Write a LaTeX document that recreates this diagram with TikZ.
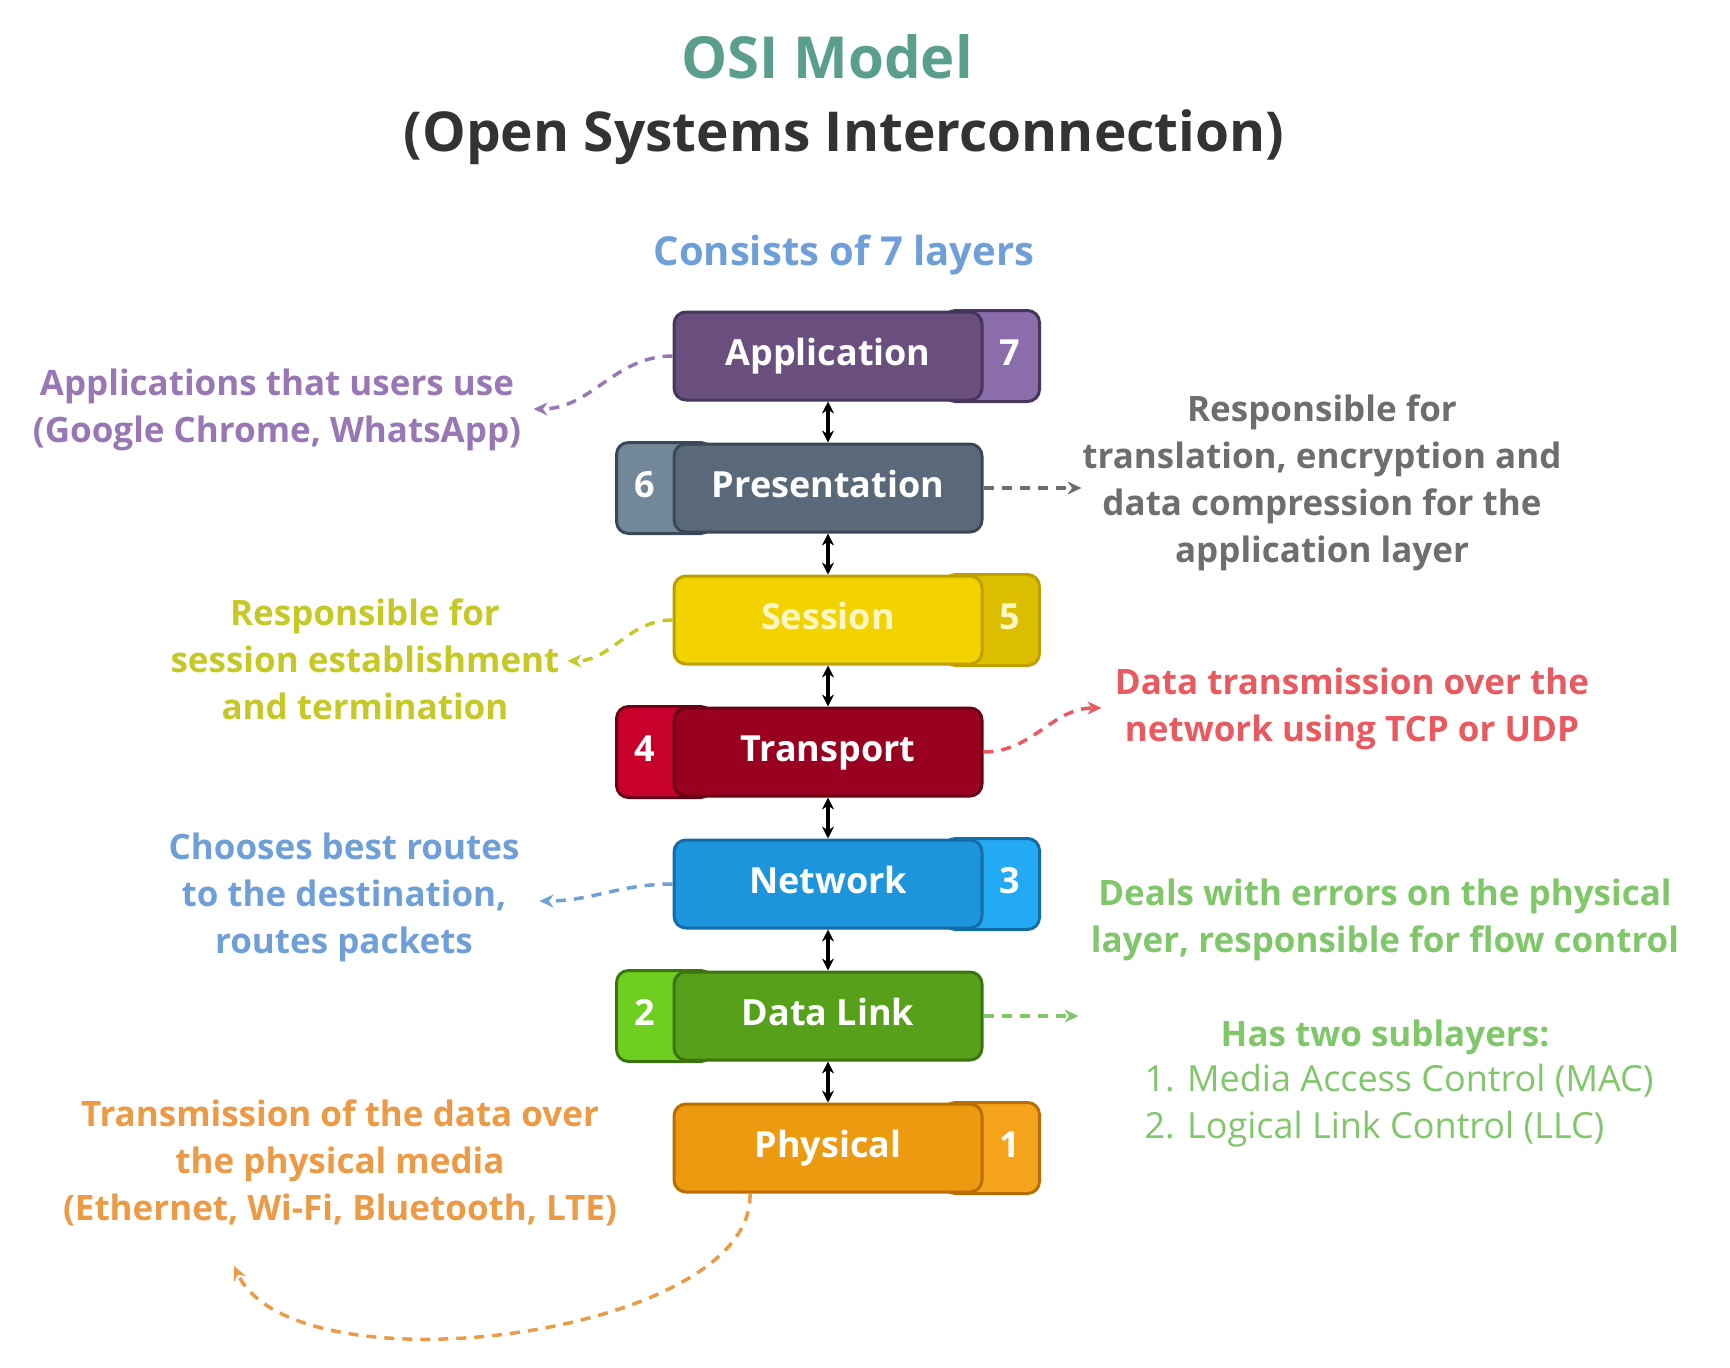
\documentclass[tikz,border=0pt]{standalone}
\usepackage{fontspec}
\setmainfont{Open Sans}
\usetikzlibrary{arrows.meta, positioning, backgrounds}

\definecolor{titlec}{HTML}{5A9E8E}
\definecolor{subc}{HTML}{333333}
\definecolor{layersc}{HTML}{6F9FD8}
\definecolor{appmain}{HTML}{6A4F7E}
\definecolor{apptab}{HTML}{8C6DAB}
\definecolor{appline}{HTML}{46365A}
\definecolor{appc}{HTML}{9877B4}
\definecolor{presmain}{HTML}{5A697A}
\definecolor{prestab}{HTML}{73879A}
\definecolor{presline}{HTML}{3A4756}
\definecolor{presc}{HTML}{6E6E6E}
\definecolor{sessmain}{HTML}{F2D300}
\definecolor{sesstab}{HTML}{DCBE00}
\definecolor{sessline}{HTML}{C0A000}
\definecolor{sesstext}{HTML}{FFF6C4}
\definecolor{sessc}{HTML}{C6C826}
\definecolor{tranmain}{HTML}{990020}
\definecolor{trantab}{HTML}{C8002C}
\definecolor{tranline}{HTML}{6A0016}
\definecolor{tranc}{HTML}{E85A60}
\definecolor{netmain}{HTML}{1C95DC}
\definecolor{nettab}{HTML}{22AAF5}
\definecolor{netline}{HTML}{136CA6}
\definecolor{netc}{HTML}{6F9FD9}
\definecolor{dlmain}{HTML}{57A01A}
\definecolor{dltab}{HTML}{6FCF20}
\definecolor{dlline}{HTML}{3C7410}
\definecolor{dlc}{HTML}{80C76A}
\definecolor{physmain}{HTML}{EC9A10}
\definecolor{phystab}{HTML}{F5A31A}
\definecolor{physline}{HTML}{B86E00}
\definecolor{physc}{HTML}{EC9A45}

\begin{document}
\begin{tikzpicture}[
  x=1pt, y=1pt,
  node distance = 41pt,
  layer/.style = {rectangle, rounded corners=12pt, line width=3pt,
                  minimum width=308pt, minimum height=88pt, text=white,
                  text height=26pt, text depth=8pt,
                  font=\fontsize{36}{42}\selectfont\bfseries},
  tabbox/.style = {rounded corners=12pt, line width=3pt},
  numlabel/.style = {text=white, text height=26pt, text depth=8pt,
                     font=\fontsize{36}{42}\selectfont\bfseries},
  desc/.style = {align=center, font=\fontsize{35}{47}\selectfont\bfseries},
  dbl/.style = {{Stealth[length=12pt,width=12pt]}-{Stealth[length=12pt,width=12pt]},
                line width=3.2pt},
  darr/.style = {-{Stealth[length=14pt,width=13pt]}, line width=3.5pt,
                 dash pattern=on 10pt off 8pt}
]
\useasboundingbox (0,0) rectangle (1730,-1368);

% title
\node[text=titlec, font=\fontsize{58}{64}\selectfont\bfseries] (ttl) at (827,-57) {OSI Model};
\node[text=subc, font=\fontsize{55}{62}\selectfont\bfseries] (sub) at (844,-137) {(Open Systems Interconnection)};
\node[text=layersc, font=\fontsize{40}{46}\selectfont\bfseries] (cons) at (844,-255) {Consists of 7 layers};

% layers
\node[layer, fill=appmain, draw=appline] (app) at (828,-356) {Application};
\node[layer, fill=presmain, draw=presline, below=of app] (pres) {Presentation};
\node[layer, fill=sessmain, draw=sessline, text=sesstext, below=of pres] (sess) {Session};
\node[layer, fill=tranmain, draw=tranline, below=of sess] (tran) {Transport};
\node[layer, fill=netmain, draw=netline, below=of tran] (net) {Network};
\node[layer, fill=dlmain, draw=dlline, below=of net] (dl) {Data Link};
\node[layer, fill=physmain, draw=physline, below=of dl] (phys) {Physical};

% number tabs
\begin{scope}[on background layer]
  \draw[tabbox, fill=apptab, draw=appline] ([xshift=-40pt]app.north east) rectangle ([xshift=56pt]app.south east);
  \draw[tabbox, fill=prestab, draw=presline] ([xshift=-56pt]pres.north west) rectangle ([xshift=40pt]pres.south west);
  \draw[tabbox, fill=sesstab, draw=sessline] ([xshift=-40pt]sess.north east) rectangle ([xshift=56pt]sess.south east);
  \draw[tabbox, fill=trantab, draw=tranline] ([xshift=-56pt]tran.north west) rectangle ([xshift=40pt]tran.south west);
  \draw[tabbox, fill=nettab, draw=netline] ([xshift=-40pt]net.north east) rectangle ([xshift=56pt]net.south east);
  \draw[tabbox, fill=dltab, draw=dlline] ([xshift=-56pt]dl.north west) rectangle ([xshift=40pt]dl.south west);
  \draw[tabbox, fill=phystab, draw=physline] ([xshift=-40pt]phys.north east) rectangle ([xshift=56pt]phys.south east);
\end{scope}
\node[numlabel] (n7) at ([xshift=26pt]app.east) {7};
\node[numlabel] (n6) at ([xshift=-28pt]pres.west) {6};
\node[numlabel, text=sesstext] (n5) at ([xshift=26pt]sess.east) {5};
\node[numlabel] (n4) at ([xshift=-28pt]tran.west) {4};
\node[numlabel] (n3) at ([xshift=26pt]net.east) {3};
\node[numlabel] (n2) at ([xshift=-28pt]dl.west) {2};
\node[numlabel] (n1) at ([xshift=26pt]phys.east) {1};

\draw[dbl] (app) -- (pres);
\draw[dbl] (pres) -- (sess);
\draw[dbl] (sess) -- (tran);
\draw[dbl] (tran) -- (net);
\draw[dbl] (net) -- (dl);
\draw[dbl] (dl) -- (phys);

% descriptions
\node[desc, text=appc] (appdesc) at (277,-410) {Applications that users use\\(Google Chrome, WhatsApp)};
\node[desc, text=presc] (presdesc) at (1322,-483) {Responsible for\\translation, encryption and\\data compression for the\\application layer};
\node[desc, text=sessc] (sessdesc) at (365,-659) {Responsible for\\session establishment\\and termination};
\node[desc, text=tranc] (trandesc) at (1352,-709) {Data transmission over the\\network using TCP or UDP};
\node[desc, text=netc] (netdesc) at (344,-897) {Chooses best routes\\to the destination,\\routes packets};
\node[desc, text=dlc] (dldesc) at (1385,-920) {Deals with errors on the physical\\layer, responsible for flow control};
\node[desc, text=dlc] (subl) at (1385,-1037) {Has two sublayers:};
\node[desc, text=dlc, align=left, font=\fontsize{36}{47}\selectfont] (sublist) at (1399,-1106) {1. Media Access Control (MAC)\\2. Logical Link Control (LLC)};
\node[desc, text=physc] (physdesc) at (340,-1163) {Transmission of the data over\\the physical media\\(Ethernet, Wi-Fi, Bluetooth, LTE)};

% pointers
\coordinate (append) at ([xshift=-139pt, yshift=-53pt]app.west);
\coordinate (presend) at ([xshift=98pt]pres.east);
\coordinate (sessend) at ([xshift=-105pt, yshift=-41pt]sess.west);
\coordinate (tranend) at ([xshift=118pt, yshift=44pt]tran.east);
\coordinate (netend) at ([xshift=-133pt, yshift=-17pt]net.west);
\coordinate (dlend) at ([xshift=95pt]dl.east);
\coordinate (physstart) at ([xshift=-78pt]phys.south);
\coordinate (physend) at (234,-1266);

\draw[darr, draw=appc] (app.west) to[out=180, in=0] (append);
\draw[darr, draw=presc] (pres.east) -- (presend);
\draw[darr, draw=sessc] (sess.west) to[out=180, in=0] (sessend);
\draw[darr, draw=tranc] (tran.east) to[out=0, in=180] (tranend);
\draw[darr, draw=netc] (net.west) to[out=180, in=0] (netend);
\draw[darr, draw=dlc] (dl.east) -- (dlend);
\draw[darr, draw=physc] (physstart) to[out=-88, in=-65, looseness=0.7] (physend);

\end{tikzpicture}
\end{document}
